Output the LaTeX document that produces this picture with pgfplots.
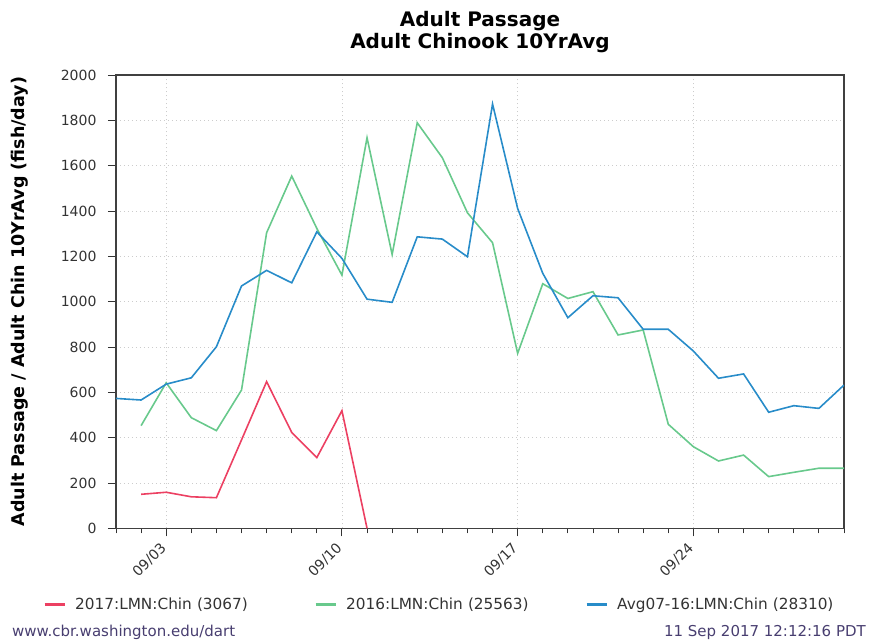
\documentclass[border=0pt]{standalone}
\usepackage{fontspec}
\setmainfont{DejaVu Sans}
\usepackage{pgfplots}
\pgfplotsset{compat=1.18}
\usepackage{pgfplotstable}
\definecolor{cred}{RGB}{236,64,98}
\definecolor{cgreen}{RGB}{104,201,140}
\definecolor{cblue}{RGB}{40,140,201}
\definecolor{ctick}{RGB}{51,51,51}
\definecolor{cfoot}{RGB}{72,62,112}
\pgfplotstableread{
day val
2 150
3 159
4 139
5 135
6 390
7 647
8 423
9 312
10 519
11 0
}\red
\pgfplotstableread{
day val
2 453
3 642
4 488
5 431
6 610
7 1304
8 1554
9 1323
10 1117
11 1723
12 1208
13 1789
14 1635
15 1392
16 1260
17 772
18 1079
19 1014
20 1044
21 853
22 875
23 459
24 360
25 297
26 323
27 228
28 247
29 265
30 265
}\green
\pgfplotstableread{
day val
1 573
2 566
3 636
4 664
5 801
6 1069
7 1138
8 1083
9 1308
10 1191
11 1011
12 997
13 1286
14 1276
15 1198
16 1872
17 1411
18 1125
19 929
20 1026
21 1017
22 878
23 878
24 782
25 662
26 681
27 512
28 541
29 529
30 632
}\blue
\begin{document}
\begin{tikzpicture}
\useasboundingbox (-116pt,-115.7pt) rectangle (753pt,528.3pt);
\begin{axis}[
  at={(0pt,0pt)}, anchor=south west,
  scale only axis, width=728pt, height=453.3pt,
  xmin=1, xmax=30, ymin=0, ymax=2000,
  xtick={3,10,17,24}, xticklabels={09/03,09/10,09/17,09/24},
  minor xtick={1,...,30},
  ytick={0,200,...,2000},
  tick pos=left, tick align=outside,
  major tick length=8pt, minor tick length=5pt,
  every tick/.style={black!80, line width=0.9pt},
  axis line style={black!75, line width=1.1pt},
  grid=major,
  major grid style={gray!40, dash pattern=on 1pt off 3pt, line width=0.8pt},
  /pgf/number format/assume math mode=true,
  /pgf/number format/1000 sep={},
  tick label style={font=\fontsize{14}{16}\selectfont, text=ctick},
  yticklabel style={xshift=-8pt},
  xticklabel style={rotate=45, anchor=east},
  xticklabel shift=7pt,
  title={Adult Passage\\Adult Chinook 10YrAvg},
  title style={at={(axis description cs:0.5,1)}, anchor=south, yshift=13pt, align=center, font=\fontsize{20}{22}\selectfont\bfseries},
  ylabel={Adult Passage / Adult Chin 10YrAvg (fish/day)},
  ylabel style={at={(axis description cs:-0.1319,0.5)}, anchor=center, font=\fontsize{17.5}{20}\selectfont\bfseries},
  legend columns=3,
  legend cell align=left,
  legend image code/.code={\draw[line width=3pt] (0pt,0pt) -- (20pt,0pt);},
  legend style={at={(axis description cs:-0.1003,-0.168)}, anchor=west, draw=none, fill=none, inner sep=0pt,
    font=\fontsize{15.3}{17}\selectfont, text=ctick,
    /tikz/every odd column/.append style={column sep=7pt},
    /tikz/every even column/.append style={text width=237pt}},
]
\addplot[cred, line width=1.6pt] table[x=day, y=val] {\red};
\addlegendentry{2017:LMN:Chin (3067)}
\addplot[cgreen, line width=1.6pt] table[x=day, y=val] {\green};
\addlegendentry{2016:LMN:Chin (25563)}
\addplot[cblue, line width=1.6pt] table[x=day, y=val] {\blue};
\addlegendentry{Avg07-16:LMN:Chin (28310)}
\end{axis}
\node[anchor=base west, inner sep=0pt, text=cfoot, font=\fontsize{15}{17}\selectfont] at (-104pt,-108pt) {www.cbr.washington.edu/dart};
\node[anchor=base east, inner sep=0pt, text=cfoot, font=\fontsize{15}{17}\selectfont] at (750pt,-108pt) {11 Sep 2017 12:12:16 PDT};
\end{tikzpicture}
\end{document}
